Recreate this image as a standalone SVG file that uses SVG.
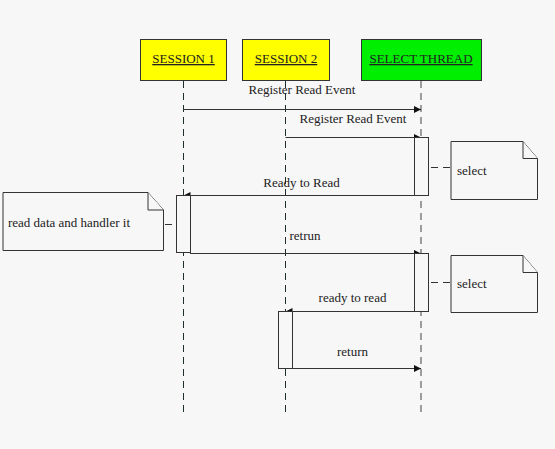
<svg xmlns="http://www.w3.org/2000/svg" width="555" height="449" viewBox="0 0 555 449">
<defs>
<marker id="ah" markerWidth="8" markerHeight="7" refX="7" refY="3.5" orient="auto" markerUnits="userSpaceOnUse">
<path d="M0,0 L7,3.5 L0,7 Z" fill="#111"/>
</marker>
</defs>
<style>
.hdr{stroke:#333;stroke-width:1}
text{font-family:'Liberation Serif','Times New Roman',Times,serif;fill:#222;font-size:13px}
.ht{text-decoration:underline;text-anchor:middle}
.life{fill:none;stroke:#1f2f2f;stroke-width:1;stroke-dasharray:7,5}
.lifeg{fill:none;stroke:#808080;stroke-width:1.5;stroke-dasharray:7,5}
.msg{fill:none;stroke:#333;stroke-width:1;marker-end:url(#ah)}
.lbl{text-anchor:middle}
.act{fill:#f7f7f7;stroke:#333;stroke-width:1}
.note{fill:#f7f7f7;stroke:#333;stroke-width:1}
.conn{fill:none;stroke:#333;stroke-width:1;stroke-dasharray:7,5}
</style>
<rect width="555" height="449" fill="#f7f7f7"/>
<g id="lifelines">
<path class="life" d="M183.5,81 V417"/>
<path class="life" d="M285.5,81 V417"/>
<path class="lifeg" d="M421,81 V412"/>
</g>
<g id="session1">
<rect class="hdr" x="140.5" y="39.5" width="86" height="41" fill="#ffff00"/>
<text class="ht" x="183.5" y="63">SESSION 1</text>
</g>
<g id="session2">
<rect class="hdr" x="242.5" y="39.5" width="87" height="41" fill="#ffff00"/>
<text class="ht" x="286" y="63">SESSION 2</text>
</g>
<g id="selectthread">
<rect class="hdr" x="361.5" y="39.5" width="120" height="41" fill="#00ee00"/>
<text class="ht" x="421" y="63">SELECT THREAD</text>
</g>
<g id="connectors">
<path class="msg" d="M183.5,109.5 H421"/>
<text class="lbl" x="302" y="94">Register Read Event</text>
<path class="msg" d="M285.5,137.5 H421"/>
<text class="lbl" x="353" y="123">Register Read Event</text>
<path class="msg" d="M414,195.5 H183.5"/>
<text class="lbl" x="301.5" y="187">Ready to Read</text>
<path class="msg" d="M190,253.5 H421"/>
<text class="lbl" x="305" y="240">retrun</text>
<path class="msg" d="M414,311.5 H285.5"/>
<text class="lbl" x="352.5" y="302">ready to read</text>
<path class="msg" d="M292,368.5 H421"/>
<text class="lbl" x="352.5" y="356">return</text>
<path class="conn" d="M431,167.5 H451"/>
<path class="conn" d="M165,224.5 H176"/>
<path class="conn" d="M431,282.5 H451"/>
</g>
<g id="act1">
<rect class="act" x="414.5" y="137.5" width="14" height="58"/>
</g>
<g id="act2">
<rect class="act" x="176.5" y="195.5" width="14" height="57"/>
</g>
<g id="act3">
<rect class="act" x="414.5" y="253.5" width="14" height="58"/>
</g>
<g id="act4">
<rect class="act" x="278.5" y="311.5" width="14" height="57"/>
</g>
<g id="note1">
<path class="note" d="M451,141.5 H523 L537.5,158.5 V199.5 H451 Z"/>
<path class="note" d="M523,141.5 V158.5 H537.5"/>
<text x="457" y="175">select</text>
</g>
<g id="note2">
<path class="note" d="M3,192.5 H148 L163.5,210 V250.5 H3 Z"/>
<path class="note" d="M148,192.5 V210 H163.5"/>
<text x="8" y="226.5">read data and handler it</text>
</g>
<g id="note3">
<path class="note" d="M451,255.5 H523 L537.5,272.5 V312.5 H451 Z"/>
<path class="note" d="M523,255.5 V272.5 H537.5"/>
<text x="457" y="288">select</text>
</g>
</svg>
